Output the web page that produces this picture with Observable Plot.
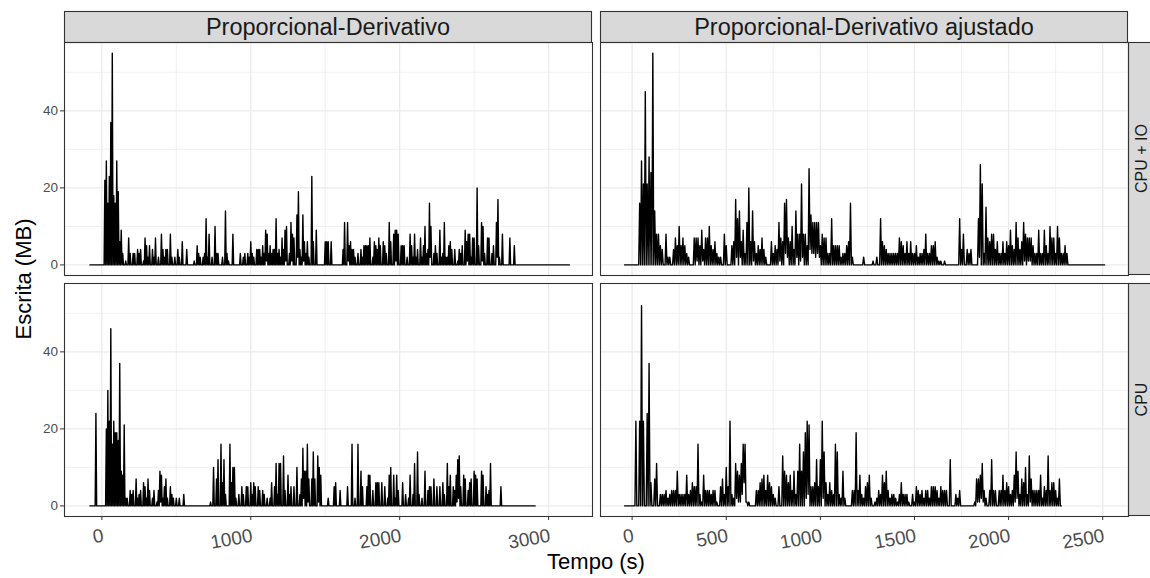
<!DOCTYPE html>
<html>
<head>
<meta charset="utf-8">
<script src="https://cdn.jsdelivr.net/npm/d3@7"></script>
<script src="https://cdn.jsdelivr.net/npm/@observablehq/plot@0.6"></script>
<style>
  html, body { margin: 0; padding: 0; background: #fff; }
  #chart { position: relative; width: 1150px; height: 578px; overflow: hidden; font-family: "Liberation Sans", Arial, sans-serif; }
  #chart svg { position: absolute; }
</style>
</head>
<body>
<div id="chart"></div>
<script>
// Facet labels
const colunas = ["Proporcional-Derivativo", "Proporcional-Derivativo ajustado"];
const linhas = ["CPU + IO", "CPU"];

// Sampling: one value every 5 s, starting at the given time (s)
const passo = 5;
const inicioPD = -80;
const inicioPDA = -40;

// Escrita (MB) — Proporcional-Derivativo, CPU + IO (each row = 100 s)
const pdCpuIo = [
  0,0,0,0,0,0,0,0,0,0,0,0,0,0,0,0,
  0,0,0,0,22,0,27,0,16,0,23,0,37,0,55,0,18,0,16,0,
  27,0,19,0,6,0,9,0,3,0,0,0,1,0,0,0,7,0,3,0,
  0,0,3,0,3,0,0,0,4,0,3,0,4,0,0,0,1,0,7,0,
  5,0,2,0,5,0,0,0,4,0,2,0,7,0,0,0,2,0,0,0,
  8,0,4,0,2,0,4,0,4,0,0,0,8,0,2,0,0,0,2,0,
  0,0,4,0,2,0,0,0,6,0,0,0,0,0,4,0,0,0,0,0,
  0,0,0,0,1,0,0,0,5,0,3,0,2,0,0,0,2,0,3,0,
  12,0,2,0,8,0,0,0,2,0,0,0,10,0,3,0,3,0,0,0,
  0,0,2,0,0,0,14,0,3,0,1,0,0,0,0,0,8,0,0,0,
  0,0,0,0,0,0,3,0,0,0,2,0,3,0,0,0,3,0,2,0,
  6,0,3,0,2,0,0,0,4,0,4,0,4,0,2,0,5,0,3,0,
  9,1,8,0,3,0,5,0,3,0,4,0,4,0,12,0,3,0,4,0,
  2,0,7,0,4,0,9,1,10,0,0,0,3,0,11,1,8,0,7,0,
  0,0,13,2,19,0,4,0,2,0,13,1,6,0,3,0,6,0,2,0,
  0,0,23,0,6,0,0,0,9,0,0,0,0,0,0,0,0,0,0,0,
  6,0,6,0,6,0,0,0,6,0,0,0,0,0,0,0,0,0,0,0,
  0,0,0,0,4,0,11,0,0,0,11,1,5,0,6,0,4,0,4,0,
  2,0,0,0,3,0,0,0,4,0,2,0,5,0,5,0,5,0,5,0,
  7,0,0,0,2,0,6,0,5,0,4,0,7,0,5,0,0,0,6,0,
  5,0,3,0,0,0,11,0,6,0,0,0,8,0,9,1,9,0,8,0,
  0,0,5,0,5,0,5,0,0,0,2,0,0,0,8,0,5,0,2,0,
  8,0,2,0,4,0,0,0,7,0,2,0,5,0,10,0,3,0,4,0,
  16,2,10,0,0,0,3,0,5,0,3,0,0,0,9,0,2,0,3,0,
  11,0,2,0,2,0,5,0,6,0,4,0,0,0,4,0,0,0,1,0,
  4,0,3,0,5,0,0,0,9,0,6,1,8,0,8,0,2,0,7,0,
  7,0,0,0,20,0,5,0,0,0,11,1,10,0,3,0,0,0,7,0,
  7,0,0,0,3,0,5,0,0,0,11,2,17,0,2,0,0,0,8,0,
  0,0,0,0,0,0,0,0,7,0,0,0,0,0,5,0,0,0,0,0,
  0,0,0,0,0,0,0,0,0,0,0,0,0,0,0,0,0,0,0,0,
  0,0,0,0,0,0,0,0,0,0,0,0,0,0,0,0,0,0,0,0,
  0,0,0,0,0,0,0,0,0,0,0,0,0,0,0,0,0,0,0,0,
  0,0,0,0,0,0,0,0,0
];

// Escrita (MB) — Proporcional-Derivativo, CPU
const pdCpu = [
  0,0,0,0,0,0,0,0,24,0,0,0,0,0,0,0,
  0,0,0,0,0,0,20,0,30,0,22,0,46,0,16,0,22,0,19,0,
  19,0,17,0,37,0,9,0,8,0,21,0,2,0,2,0,0,0,4,0,
  3,0,4,0,0,0,7,0,2,0,3,0,4,0,0,0,6,0,5,0,
  2,0,7,0,4,0,0,0,2,0,4,0,0,0,1,0,4,0,9,1,
  8,0,2,0,5,0,7,0,2,0,0,0,5,0,3,0,2,0,0,0,
  2,0,0,0,2,0,0,0,0,0,3,0,0,0,0,0,0,0,0,0,
  0,0,0,0,0,0,0,0,0,0,0,0,0,0,0,0,0,0,0,0,
  0,0,0,0,0,0,1,0,0,0,10,0,0,0,7,0,12,0,0,0,
  16,0,6,0,12,0,3,0,0,0,0,0,16,0,6,0,10,0,10,0,
  2,0,0,0,3,0,0,0,5,0,3,0,0,0,5,0,5,0,0,0,
  6,0,3,0,6,0,5,0,0,0,5,0,4,0,0,0,4,0,3,0,
  0,0,2,0,0,0,2,0,6,0,0,0,5,0,11,0,3,0,11,0,
  11,0,0,0,13,0,4,0,0,0,8,0,3,0,5,0,0,0,5,0,
  0,0,10,0,0,0,3,0,7,0,15,2,9,0,9,0,16,1,7,0,
  0,0,7,0,14,0,7,0,0,0,13,1,10,0,8,0,0,0,0,0,
  0,0,0,0,2,0,0,0,0,0,0,0,5,0,6,0,0,0,0,0,
  4,0,0,0,0,0,0,0,0,0,5,0,0,0,0,0,16,0,0,0,
  2,0,0,0,16,0,0,0,9,0,5,0,0,0,0,0,5,0,8,0,
  8,0,0,0,4,0,0,0,6,0,6,0,6,0,0,0,6,0,0,0,
  5,0,0,0,2,0,8,0,10,0,0,0,8,0,2,0,8,0,4,0,
  0,0,0,0,6,0,0,0,3,0,0,0,2,0,8,0,0,0,3,0,
  11,0,0,0,14,0,3,0,0,0,2,0,0,0,9,0,0,0,4,0,
  5,0,5,0,0,0,7,0,0,0,5,0,0,0,5,0,0,0,6,0,
  3,0,0,0,11,0,5,0,8,0,0,0,5,0,4,0,8,1,12,2,
  13,0,5,0,0,0,8,0,7,0,0,0,4,0,6,0,7,0,0,0,
  9,0,8,0,7,0,0,0,0,0,9,0,8,0,0,0,5,0,3,0,
  4,0,11,0,0,0,0,0,0,0,0,0,0,0,0,0,5,0,0,0,
  0,0,0,0,0,0,0,0,0,0,0,0,0,0,0,0,0,0,0,0,
  0,0,0,0,0,0,0,0,0,0,0,0,0,0,0,0,0,0,0,0,
  0,0,0
];

// Escrita (MB) — Proporcional-Derivativo ajustado, CPU + IO
const pdaCpuIo = [
  0,0,0,0,0,0,0,0,
  0,0,0,0,0,0,0,0,16,0,27,0,21,0,45,0,21,0,28,0,
  24,0,55,0,14,0,8,0,8,0,5,0,4,0,0,0,8,0,2,0,
  2,0,0,0,4,0,7,0,5,0,10,0,5,0,7,0,5,0,3,0,
  2,0,0,0,0,0,7,0,7,1,7,0,5,0,9,1,4,0,7,0,
  7,0,10,0,5,0,4,0,6,0,3,0,2,0,2,0,0,0,8,0,
  5,0,0,0,0,0,5,0,6,0,17,2,12,0,14,2,6,0,9,0,
  3,0,11,0,20,0,6,0,14,1,6,0,3,0,5,0,4,0,7,0,
  4,0,2,0,0,0,0,0,6,0,3,0,5,0,4,0,11,1,7,0,
  6,0,16,3,17,2,7,0,6,0,10,0,4,0,14,2,8,0,8,1,
  21,2,8,0,8,0,5,0,25,4,13,3,11,3,11,2,11,3,11,2,
  5,0,8,0,7,0,7,0,3,0,3,0,12,0,5,0,5,0,5,0,
  5,0,2,0,3,0,3,0,5,0,6,0,16,0,2,0,0,0,0,0,
  0,0,0,0,0,0,2,0,0,0,0,0,0,0,0,0,1,0,0,0,
  2,0,0,0,12,0,6,0,5,0,4,0,3,0,3,0,3,0,3,0,
  3,0,3,0,7,0,6,0,5,0,3,0,6,0,3,0,6,0,3,0,
  3,0,5,0,2,0,3,0,3,0,4,0,8,0,3,0,3,0,5,0,
  5,0,6,0,2,0,1,0,1,0,0,0,1,0,0,0,0,0,0,0,
  0,0,0,0,0,0,0,0,12,0,4,0,8,0,0,0,4,0,3,0,
  4,0,0,0,0,0,0,0,12,2,26,0,21,0,3,0,15,0,7,0,
  6,0,8,0,8,0,4,0,6,0,3,0,3,0,6,0,3,0,6,0,
  5,0,9,0,5,0,4,0,11,0,7,0,4,0,6,0,11,1,8,0,
  7,1,7,1,7,0,5,0,3,0,3,0,9,0,3,0,3,0,9,0,
  5,0,3,0,10,0,7,0,7,0,3,0,10,0,7,0,3,0,3,0,
  5,0,3,0,0,0,0,0,0,0,0,0,0,0,0,0,0,0,0,0,
  0,0,0,0,0,0,0,0,0,0,0,0,0,0,0,0,0,0,0,0,
  0,0,0
];

// Escrita (MB) — Proporcional-Derivativo ajustado, CPU
const pdaCpu = [
  0,0,0,0,0,0,0,0,
  0,0,0,0,22,0,0,0,22,0,52,0,22,0,0,0,24,0,37,0,
  6,0,0,0,7,0,11,0,0,0,3,0,3,0,3,0,4,0,2,0,
  3,0,4,0,4,0,4,0,9,0,3,0,3,0,3,0,3,0,8,0,
  3,0,4,0,6,0,5,0,5,0,16,0,3,0,1,0,8,0,4,0,
  4,0,4,0,3,0,4,0,4,0,1,0,0,0,5,0,7,0,3,0,
  10,0,5,0,22,0,3,0,2,0,11,2,9,1,8,1,11,3,16,6,
  16,1,1,0,1,0,0,0,0,0,0,0,4,0,4,0,6,0,7,0,
  8,0,4,0,8,0,6,0,5,0,3,0,2,0,0,0,5,0,0,0,
  13,0,9,0,8,0,6,0,8,0,4,0,9,0,3,0,9,0,16,0,
  9,0,14,0,19,2,22,3,21,0,5,0,5,0,6,0,12,0,5,0,
  12,0,22,2,14,0,6,0,3,0,6,0,4,0,3,0,16,0,14,0,
  3,0,2,0,9,0,2,0,0,0,0,0,0,0,4,0,4,0,19,0,
  4,0,8,0,3,0,2,0,5,0,6,0,8,0,2,0,0,0,1,0,
  2,0,4,0,3,0,8,0,6,0,9,0,4,0,2,0,3,0,3,0,
  2,0,1,0,3,0,6,0,3,0,3,0,3,0,1,0,0,0,3,0,
  1,0,5,0,4,0,3,0,4,0,2,0,4,0,4,0,2,0,5,0,
  5,0,5,0,4,0,2,0,5,0,4,0,4,0,4,0,0,0,12,0,
  0,0,0,0,3,0,2,0,4,0,0,0,0,0,0,0,0,0,0,0,
  0,0,0,0,1,0,7,1,7,1,8,2,11,1,4,0,2,0,0,0,
  4,0,12,0,4,0,4,0,0,0,4,0,4,0,8,0,4,0,6,0,
  5,0,3,0,4,0,8,1,14,2,9,0,3,0,7,0,6,0,10,0,
  3,0,13,1,7,0,4,0,4,0,4,0,4,0,8,0,2,0,5,0,
  4,0,13,0,4,0,6,0,6,0,4,0,2,0,7,0,0
];

// Axis breaks
const ticksY = [0, 20, 40];
const ticksYMenores = [10, 30, 50];
const ticksPD = [0, 1000, 2000, 3000];
const ticksPDMenores = [500, 1500, 2500];
const ticksPDA = [0, 500, 1000, 1500, 2000, 2500];
const ticksPDAMenores = [250, 750, 1250, 1750, 2250];

const rotuloX = "Tempo (s)";
const rotuloY = "Escrita (MB)";

// ---- layout ----
const FONT = '"Liberation Sans", Arial, sans-serif';
const panelW = 528, panelH = 233;
const colX = [64, 600];
const rowY = [42, 283];
const yDomain = [-2.75, 57.75];
const xDomains = [[-251, 3295], [-168, 2637]];

const serie = (inicio, valores) => valores.map((v, i) => ({t: inicio + i * passo, v}));

const paineis = [
  {r: 0, c: 0, dados: serie(inicioPD, pdCpuIo)},
  {r: 1, c: 0, dados: serie(inicioPD, pdCpu)},
  {r: 0, c: 1, dados: serie(inicioPDA, pdaCpuIo)},
  {r: 1, c: 1, dados: serie(inicioPDA, pdaCpu)}
];

const chart = document.getElementById("chart");

// strips, axis titles
const deco = d3.select(chart).append("svg")
  .attr("width", 1150).attr("height", 578)
  .style("left", "0px").style("top", "0px")
  .style("font-family", FONT);

colunas.forEach((nome, c) => {
  deco.append("rect")
    .attr("x", colX[c] + 0.5).attr("y", 11.5)
    .attr("width", panelW - 1).attr("height", 31)
    .attr("fill", "#d9d9d9").attr("stroke", "#333333").attr("stroke-width", 1.1);
  deco.append("text")
    .attr("x", colX[c] + panelW / 2).attr("y", 35)
    .attr("text-anchor", "middle")
    .attr("font-size", 23.5).attr("fill", "#1a1a1a")
    .text(nome);
});

linhas.forEach((nome, r) => {
  deco.append("rect")
    .attr("x", 1128.5).attr("y", rowY[r] + 0.5)
    .attr("width", 30).attr("height", panelH - 1)
    .attr("fill", "#d9d9d9").attr("stroke", "#333333").attr("stroke-width", 1.1);
  deco.append("text")
    .attr("transform", `translate(1147,${rowY[r] + panelH / 2}) rotate(-90)`)
    .attr("text-anchor", "middle")
    .attr("font-size", 16).attr("fill", "#1a1a1a")
    .text(nome);
});

deco.append("text")
  .attr("x", (colX[0] + colX[1] + panelW) / 2).attr("y", 569)
  .attr("text-anchor", "middle").attr("font-size", 22).attr("fill", "#000")
  .text(rotuloX);

deco.append("text")
  .attr("transform", `translate(31,${(rowY[0] + rowY[1] + panelH) / 2}) rotate(-90)`)
  .attr("text-anchor", "middle").attr("font-size", 22).attr("fill", "#000")
  .text(rotuloY);

// panels
for (const p of paineis) {
  const mostraY = p.c === 0;
  const mostraX = p.r === 1;
  const mL = mostraY ? 50 : 2, mR = 2, mT = 2, mB = mostraX ? 50 : 2;
  const ticksX = p.c === 0 ? ticksPD : ticksPDA;
  const menoresX = p.c === 0 ? ticksPDMenores : ticksPDAMenores;

  const marks = [
    Plot.gridX(menoresX, {stroke: "#ebebeb", strokeOpacity: 1, strokeWidth: 0.7}),
    Plot.gridY(ticksYMenores, {stroke: "#ebebeb", strokeOpacity: 1, strokeWidth: 0.7}),
    Plot.gridX(ticksX, {stroke: "#ebebeb", strokeOpacity: 1, strokeWidth: 1.3}),
    Plot.gridY(ticksY, {stroke: "#ebebeb", strokeOpacity: 1, strokeWidth: 1.3}),
    Plot.line(p.dados, {x: "t", y: "v", stroke: "#000", strokeWidth: 1.4}),
    Plot.frame({stroke: "#333333", strokeWidth: 1.1})
  ];
  if (mostraY) {
    marks.push(Plot.axisY({
      ticks: ticksY, tickSize: 4, tickPadding: 2.5, fontSize: 13.5,
      stroke: "#333333", fill: "#4d4d4d", label: null
    }));
  }
  if (mostraX) {
    marks.push(Plot.axisX({
      ticks: ticksX, tickSize: 4, tickFormat: () => "", stroke: "#333333", label: null
    }));
    marks.push(Plot.text(ticksX, {
      x: d => d, text: d => String(d), frameAnchor: "bottom",
      dx: 1.5, dy: 19, rotate: -10, textAnchor: "end", lineAnchor: "middle",
      fontSize: 19, fill: "#4d4d4d"
    }));
  }

  const svg = Plot.plot({
    width: panelW + mL + mR,
    height: panelH + mT + mB,
    marginLeft: mL, marginRight: mR, marginTop: mT, marginBottom: mB,
    x: {domain: xDomains[p.c], axis: null},
    y: {domain: yDomain, axis: null},
    style: {background: "transparent", fontFamily: FONT, overflow: "visible", maxWidth: "none"},
    marks
  });
  svg.style.left = (colX[p.c] - mL) + "px";
  svg.style.top = (rowY[p.r] - mT) + "px";
  chart.appendChild(svg);
}
</script>
</body>
</html>
